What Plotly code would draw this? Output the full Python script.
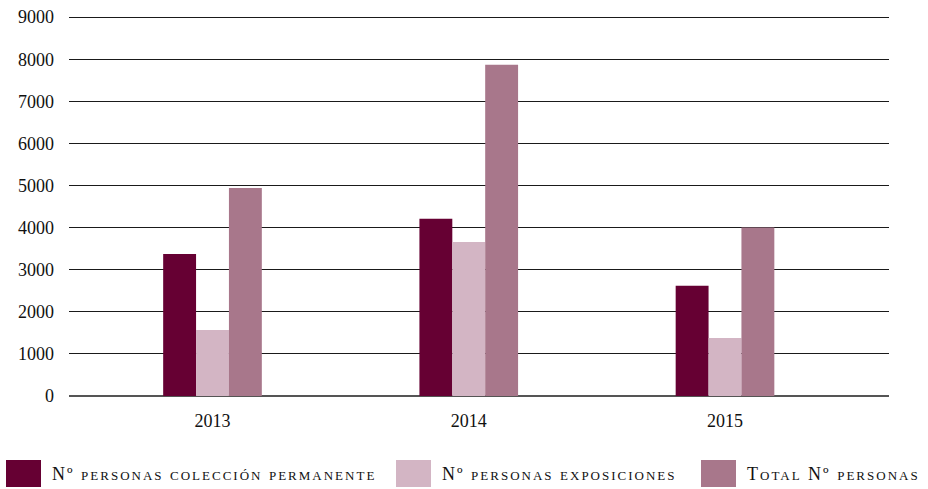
import plotly.graph_objects as go

years = ["2013", "2014", "2015"]
series_names = ["Nº personas colección permanente", "Nº personas exposiciones", "Total Nº personas"]
coleccion = [3370, 4210, 2620]
exposiciones = [1570, 3660, 1380]
total = [4940, 7870, 4000]
colors = ["#660033", "#D3B5C4", "#A8778B"]
y_ticks = [0, 1000, 2000, 3000, 4000, 5000, 6000, 7000, 8000, 9000]

FONT = "Liberation Serif"

fig = go.Figure()
for name, vals, col in zip(series_names, [coleccion, exposiciones, total], colors):
    fig.add_trace(go.Bar(x=years, y=vals, name=name, marker=dict(color=col, line=dict(width=0)),
                         showlegend=False))

T, B = 15, 93
PH = 489 - T - B
fig.update_layout(
    width=928, height=489,
    margin=dict(l=69, r=39, t=T, b=B, autoexpand=False),
    paper_bgcolor="white", plot_bgcolor="white",
    barmode="group", bargap=0.615, bargroupgap=0,
    font=dict(family=FONT, color="#111111"),
    xaxis=dict(type="category", range=[-0.56, 2.64], showgrid=False, showline=False, automargin=False,
               ticks="", tickfont=dict(size=18, family=FONT), ticklabelstandoff=12),
    yaxis=dict(range=[0, 9050], tickvals=y_ticks, showgrid=True, gridcolor="#1a1a1a", gridwidth=1,
               zeroline=True, zerolinecolor="#555555", zerolinewidth=1.5, showline=False, automargin=False,
               ticks="", tickfont=dict(size=18, family=FONT), ticklabelstandoff=14),
)

# custom legend (swatches + labels in paper coordinates)
def py(pix):
    return (489 - B - pix) / PH

shapes = []
for name, col, px in zip(series_names, colors, [6, 396, 701]):
    shapes.append(dict(type="rect", xref="paper", yref="paper",
                       x0=(px - 69) / 820, x1=(px + 35 - 69) / 820,
                       y0=py(487), y1=py(460),
                       fillcolor=col, line=dict(width=0)))
    fig.add_annotation(xref="paper", yref="paper", x=(px + 44 - 69) / 820, y=py(474),
                       xanchor="left", yanchor="middle", showarrow=False,
                       text=f'<span style="letter-spacing:2px">{name}</span>',
                       font=dict(family=FONT, size=18, color="#111111", variant="small-caps"))
fig.update_layout(shapes=shapes)

fig.write_html("out.html", config={"displayModeBar": False},
               post_script="document.body.style.margin='0';document.body.style.overflow='hidden';")
